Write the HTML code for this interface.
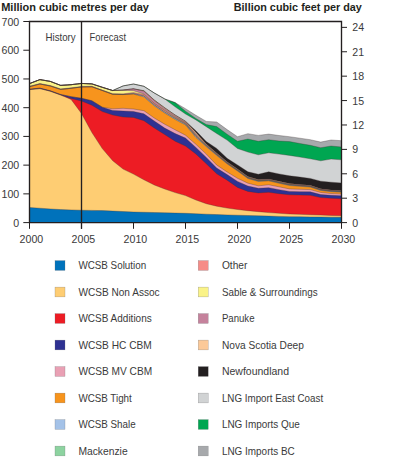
<!DOCTYPE html>
<html><head><meta charset="utf-8"><style>
html,body{margin:0;padding:0;background:#fff;}
svg{display:block;}
text{font-family:"Liberation Sans",sans-serif;fill:#3a3a3a;}
.ax{font-size:10.6px;}
.lg{font-size:10.3px;}
.ti{font-size:10.8px;font-weight:bold;fill:#231f20;}
.hf{font-size:10.2px;}
</style></head><body>
<svg width="400" height="464" viewBox="0 0 400 464">
<polygon points="29.50,83.60 39.90,79.60 50.30,81.40 60.70,85.40 71.10,84.70 81.50,83.45 91.90,83.88 102.30,87.31 112.70,90.54 123.10,85.90 133.50,84.00 143.90,86.30 154.30,93.00 164.70,98.90 175.10,102.60 185.50,108.70 195.90,115.30 206.30,121.40 216.70,122.00 227.10,129.60 237.50,136.70 247.90,133.70 258.30,135.40 268.70,134.10 279.10,135.50 289.50,136.70 299.90,138.20 310.30,139.70 320.70,142.10 331.10,140.00 341.50,140.70 341.50,222.60 29.50,222.60" fill="#a7a9ac"/>
<polygon points="29.50,83.60 39.90,79.60 50.30,81.40 60.70,85.40 71.10,84.70 81.50,83.45 91.90,83.88 102.30,87.31 112.70,90.54 123.10,85.90 133.50,84.00 143.90,86.30 154.30,93.00 164.70,98.90 175.10,102.60 185.50,111.20 195.90,118.50 206.30,124.60 216.70,126.60 227.10,134.20 237.50,141.30 247.90,139.00 258.30,141.30 268.70,139.70 279.10,141.00 289.50,141.60 299.90,143.50 310.30,145.30 320.70,147.70 331.10,146.00 341.50,147.00 341.50,222.60 29.50,222.60" fill="#00a651"/>
<polygon points="29.50,83.60 39.90,79.60 50.30,81.40 60.70,85.40 71.10,84.70 81.50,83.45 91.90,83.88 102.30,87.31 112.70,90.54 123.10,85.90 133.50,84.00 143.90,86.30 154.30,93.00 164.70,98.90 175.10,106.80 185.50,114.00 195.90,119.90 206.30,126.70 216.70,133.50 227.10,140.10 237.50,148.50 247.90,152.10 258.30,154.80 268.70,152.80 279.10,154.10 289.50,155.40 299.90,157.10 310.30,158.80 320.70,160.80 331.10,159.10 341.50,159.80 341.50,222.60 29.50,222.60" fill="#d1d3d4"/>
<polygon points="29.50,83.60 39.90,79.60 50.30,81.40 60.70,85.40 71.10,84.70 81.50,83.45 91.90,83.88 102.30,87.31 112.70,90.54 123.10,90.01 133.50,88.79 143.90,90.72 154.30,100.10 164.70,107.78 175.10,114.97 185.50,121.21 195.90,130.70 206.30,141.60 216.70,148.40 227.10,158.35 237.50,164.90 247.90,171.80 258.30,174.20 268.70,171.80 279.10,173.90 289.50,175.80 299.90,177.05 310.30,178.40 320.70,181.15 331.10,182.20 341.50,183.00 341.50,222.60 29.50,222.60" fill="#231f20"/>
<polygon points="29.50,83.60 39.90,79.60 50.30,81.40 60.70,85.40 71.10,84.70 81.50,83.45 91.90,83.88 102.30,87.31 112.70,90.54 123.10,90.01 133.50,88.79 143.90,90.72 154.30,100.10 164.70,107.78 175.10,114.97 185.50,121.21 195.90,132.41 206.30,143.98 216.70,153.06 227.10,161.71 237.50,169.06 247.90,176.57 258.30,179.49 268.70,178.90 279.10,181.31 289.50,183.53 299.90,184.40 310.30,185.28 320.70,188.75 331.10,190.03 341.50,190.60 341.50,222.60 29.50,222.60" fill="#fcc998"/>
<polygon points="29.50,83.60 39.90,79.60 50.30,81.40 60.70,85.40 71.10,84.70 81.50,83.45 91.90,83.88 102.30,87.31 112.70,90.54 123.10,90.01 133.50,88.79 143.90,91.22 154.30,100.80 164.70,108.68 175.10,115.87 185.50,122.01 195.90,133.91 206.30,144.58 216.70,153.56 227.10,162.16 237.50,169.46 247.90,176.97 258.30,179.89 268.70,179.30 279.10,181.72 289.50,183.93 299.90,184.78 310.30,185.64 320.70,189.09 331.10,190.35 341.50,190.90 341.50,222.60 29.50,222.60" fill="#c5829c"/>
<polygon points="29.50,83.60 39.90,79.60 50.30,81.40 60.70,85.40 71.10,84.70 81.50,83.45 91.90,83.88 102.30,87.31 112.70,90.54 123.10,90.41 133.50,90.69 143.90,94.02 154.30,103.20 164.70,110.28 175.10,117.07 185.50,122.81 195.90,135.11 206.30,145.08 216.70,153.96 227.10,162.56 237.50,169.86 247.90,177.37 258.30,180.29 268.70,179.70 279.10,182.12 289.50,184.33 299.90,185.16 310.30,186.00 320.70,189.43 331.10,190.67 341.50,191.20 341.50,222.60 29.50,222.60" fill="#faf388"/>
<polygon points="29.50,86.20 39.90,83.50 50.30,85.50 60.70,88.90 71.10,87.80 81.50,86.45 91.90,86.28 102.30,90.01 112.70,93.74 123.10,93.81 133.50,92.59 143.90,94.62 154.30,103.60 164.70,110.65 175.10,117.40 185.50,123.11 195.90,135.39 206.30,145.34 216.70,154.20 227.10,162.78 237.50,170.06 247.90,177.56 258.30,180.47 268.70,179.87 279.10,182.28 289.50,184.48 299.90,185.30 310.30,186.13 320.70,189.55 331.10,190.78 341.50,191.30 341.50,222.60 29.50,222.60" fill="#f68c87"/>
<polygon points="29.50,86.70 39.90,84.00 50.30,86.00 60.70,89.40 71.10,88.30 81.50,86.95 91.90,86.78 102.30,90.51 112.70,94.24 123.10,94.56 133.50,93.59 143.90,95.92 154.30,104.90 164.70,111.95 175.10,118.30 185.50,123.91 195.90,136.29 206.30,145.84 216.70,154.65 227.10,163.15 237.50,170.36 247.90,177.87 258.30,180.79 268.70,180.20 279.10,182.62 289.50,184.83 299.90,185.64 310.30,186.46 320.70,189.87 331.10,191.09 341.50,191.60 341.50,222.60 29.50,222.60" fill="#8dd3a0"/>
<polygon points="29.50,86.70 39.90,84.00 50.30,86.00 60.70,89.40 71.10,88.30 81.50,86.95 91.90,86.78 102.30,90.51 112.70,94.24 123.10,94.56 133.50,93.59 143.90,95.92 154.30,104.90 164.70,112.10 175.10,118.60 185.50,124.20 195.90,136.57 206.30,146.10 216.70,154.90 227.10,163.40 237.50,170.60 247.90,178.11 258.30,181.02 268.70,180.43 279.10,182.84 289.50,185.05 299.90,185.86 310.30,186.67 320.70,190.08 331.10,191.29 341.50,191.80 341.50,222.60 29.50,222.60" fill="#a4c2e8"/>
<polygon points="29.50,86.70 39.90,84.00 50.30,86.00 60.70,89.40 71.10,88.30 81.50,86.95 91.90,86.78 102.30,90.51 112.70,94.24 123.10,94.56 133.50,94.09 143.90,96.92 154.30,105.90 164.70,113.10 175.10,119.50 185.50,125.00 195.90,137.47 206.30,146.70 216.70,155.40 227.10,163.85 237.50,171.00 247.90,178.52 258.30,181.44 268.70,180.86 279.10,183.28 289.50,185.50 299.90,186.30 310.30,187.10 320.70,190.50 331.10,191.70 341.50,192.20 341.50,222.60 29.50,222.60" fill="#f7941d"/>
<polygon points="29.50,89.20 39.90,88.10 50.30,90.80 60.70,94.50 71.10,96.70 81.50,98.30 91.90,100.80 102.30,107.20 112.70,108.80 123.10,108.30 133.50,109.00 143.90,110.70 154.30,118.00 164.70,124.20 175.10,129.80 185.50,135.20 195.90,144.30 206.30,154.10 216.70,165.00 227.10,171.95 237.50,178.30 247.90,183.18 258.30,185.86 268.70,184.74 279.10,186.82 289.50,188.90 299.90,189.25 310.30,189.60 320.70,192.45 331.10,193.50 341.50,194.10 341.50,222.60 29.50,222.60" fill="#e9a0b4"/>
<polygon points="29.50,89.20 39.90,88.10 50.30,90.80 60.70,94.50 71.10,96.70 81.50,98.30 91.90,100.80 102.30,107.20 112.70,110.50 123.10,111.00 133.50,111.50 143.90,113.80 154.30,121.00 164.70,128.10 175.10,133.60 185.50,138.10 195.90,147.40 206.30,157.40 216.70,168.10 227.10,174.60 237.50,181.40 247.90,186.02 258.30,188.24 268.70,187.66 279.10,189.68 289.50,191.40 299.90,191.68 310.30,191.85 320.70,194.53 331.10,195.30 341.50,195.80 341.50,222.60 29.50,222.60" fill="#2e3192"/>
<polygon points="29.50,89.60 39.90,88.60 50.30,91.20 60.70,95.00 71.10,98.50 81.50,101.00 91.90,105.20 102.30,111.60 112.70,115.00 123.10,117.00 133.50,117.50 143.90,120.70 154.30,128.00 164.70,134.60 175.10,141.20 185.50,146.10 195.90,154.00 206.30,163.80 216.70,173.80 227.10,180.15 237.50,187.40 247.90,191.42 258.30,192.94 268.70,192.36 279.10,193.68 289.50,194.80 299.90,195.07 310.30,195.35 320.70,197.62 331.10,198.30 341.50,198.80 341.50,222.60 29.50,222.60" fill="#ed1c24"/>
<polygon points="29.50,89.60 39.90,88.60 50.30,91.20 60.70,95.00 71.10,99.40 81.50,113.50 91.90,132.50 102.30,148.60 112.70,160.70 123.10,169.10 133.50,174.10 143.90,179.80 154.30,185.00 164.70,189.00 175.10,192.60 185.50,195.60 195.90,200.00 206.30,203.70 216.70,206.20 227.10,208.10 237.50,209.50 247.90,210.70 258.30,211.65 268.70,212.60 279.10,213.30 289.50,214.00 299.90,214.36 310.30,214.72 320.70,215.08 331.10,215.44 341.50,215.80 341.50,222.60 29.50,222.60" fill="#fecd73"/>
<polygon points="29.50,207.50 39.90,208.20 50.30,208.90 60.70,209.60 71.10,209.90 81.50,210.20 91.90,210.40 102.30,210.60 112.70,211.07 123.10,211.53 133.50,212.00 143.90,212.26 154.30,212.52 164.70,212.78 175.10,213.04 185.50,213.30 195.90,213.73 206.30,214.17 216.70,214.60 227.10,214.90 237.50,215.20 247.90,215.50 258.30,215.80 268.70,216.10 279.10,216.40 289.50,216.70 299.90,216.82 310.30,216.94 320.70,217.06 331.10,217.18 341.50,217.30 341.50,222.60 29.50,222.60" fill="#0072bb"/>
<g fill="none" stroke="#3b2f2f" stroke-width="0.45" stroke-opacity="0.7" stroke-linejoin="round"><polyline points="29.50,207.50 39.90,208.20 50.30,208.90 60.70,209.60 71.10,209.90 81.50,210.20 91.90,210.40 102.30,210.60 112.70,211.07 123.10,211.53 133.50,212.00 143.90,212.26 154.30,212.52 164.70,212.78 175.10,213.04 185.50,213.30 195.90,213.73 206.30,214.17 216.70,214.60 227.10,214.90 237.50,215.20 247.90,215.50 258.30,215.80 268.70,216.10 279.10,216.40 289.50,216.70 299.90,216.82 310.30,216.94 320.70,217.06 331.10,217.18 341.50,217.30"/>
<polyline points="29.50,89.60 39.90,88.60 50.30,91.20 60.70,95.00 71.10,99.40 81.50,113.50 91.90,132.50 102.30,148.60 112.70,160.70 123.10,169.10 133.50,174.10 143.90,179.80 154.30,185.00 164.70,189.00 175.10,192.60 185.50,195.60 195.90,200.00 206.30,203.70 216.70,206.20 227.10,208.10 237.50,209.50 247.90,210.70 258.30,211.65 268.70,212.60 279.10,213.30 289.50,214.00 299.90,214.36 310.30,214.72 320.70,215.08 331.10,215.44 341.50,215.80"/>
<polyline points="29.50,89.60 39.90,88.60 50.30,91.20 60.70,95.00 71.10,98.50 81.50,101.00 91.90,105.20 102.30,111.60 112.70,115.00 123.10,117.00 133.50,117.50 143.90,120.70 154.30,128.00 164.70,134.60 175.10,141.20 185.50,146.10 195.90,154.00 206.30,163.80 216.70,173.80 227.10,180.15 237.50,187.40 247.90,191.42 258.30,192.94 268.70,192.36 279.10,193.68 289.50,194.80 299.90,195.07 310.30,195.35 320.70,197.62 331.10,198.30 341.50,198.80"/>
<polyline points="29.50,89.20 39.90,88.10 50.30,90.80 60.70,94.50 71.10,96.70 81.50,98.30 91.90,100.80 102.30,107.20 112.70,110.50 123.10,111.00 133.50,111.50 143.90,113.80 154.30,121.00 164.70,128.10 175.10,133.60 185.50,138.10 195.90,147.40 206.30,157.40 216.70,168.10 227.10,174.60 237.50,181.40 247.90,186.02 258.30,188.24 268.70,187.66 279.10,189.68 289.50,191.40 299.90,191.68 310.30,191.85 320.70,194.53 331.10,195.30 341.50,195.80"/>
<polyline points="29.50,89.20 39.90,88.10 50.30,90.80 60.70,94.50 71.10,96.70 81.50,98.30 91.90,100.80 102.30,107.20 112.70,108.80 123.10,108.30 133.50,109.00 143.90,110.70 154.30,118.00 164.70,124.20 175.10,129.80 185.50,135.20 195.90,144.30 206.30,154.10 216.70,165.00 227.10,171.95 237.50,178.30 247.90,183.18 258.30,185.86 268.70,184.74 279.10,186.82 289.50,188.90 299.90,189.25 310.30,189.60 320.70,192.45 331.10,193.50 341.50,194.10"/>
<polyline points="29.50,86.70 39.90,84.00 50.30,86.00 60.70,89.40 71.10,88.30 81.50,86.95 91.90,86.78 102.30,90.51 112.70,94.24 123.10,94.56 133.50,94.09 143.90,96.92 154.30,105.90 164.70,113.10 175.10,119.50 185.50,125.00 195.90,137.47 206.30,146.70 216.70,155.40 227.10,163.85 237.50,171.00 247.90,178.52 258.30,181.44 268.70,180.86 279.10,183.28 289.50,185.50 299.90,186.30 310.30,187.10 320.70,190.50 331.10,191.70 341.50,192.20"/>
<polyline points="29.50,86.70 39.90,84.00 50.30,86.00 60.70,89.40 71.10,88.30 81.50,86.95 91.90,86.78 102.30,90.51 112.70,94.24 123.10,94.56 133.50,93.59 143.90,95.92 154.30,104.90 164.70,112.10 175.10,118.60 185.50,124.20 195.90,136.57 206.30,146.10 216.70,154.90 227.10,163.40 237.50,170.60 247.90,178.11 258.30,181.02 268.70,180.43 279.10,182.84 289.50,185.05 299.90,185.86 310.30,186.67 320.70,190.08 331.10,191.29 341.50,191.80"/>
<polyline points="29.50,86.70 39.90,84.00 50.30,86.00 60.70,89.40 71.10,88.30 81.50,86.95 91.90,86.78 102.30,90.51 112.70,94.24 123.10,94.56 133.50,93.59 143.90,95.92 154.30,104.90 164.70,111.95 175.10,118.30 185.50,123.91 195.90,136.29 206.30,145.84 216.70,154.65 227.10,163.15 237.50,170.36 247.90,177.87 258.30,180.79 268.70,180.20 279.10,182.62 289.50,184.83 299.90,185.64 310.30,186.46 320.70,189.87 331.10,191.09 341.50,191.60"/>
<polyline points="29.50,86.20 39.90,83.50 50.30,85.50 60.70,88.90 71.10,87.80 81.50,86.45 91.90,86.28 102.30,90.01 112.70,93.74 123.10,93.81 133.50,92.59 143.90,94.62 154.30,103.60 164.70,110.65 175.10,117.40 185.50,123.11 195.90,135.39 206.30,145.34 216.70,154.20 227.10,162.78 237.50,170.06 247.90,177.56 258.30,180.47 268.70,179.87 279.10,182.28 289.50,184.48 299.90,185.30 310.30,186.13 320.70,189.55 331.10,190.78 341.50,191.30"/>
<polyline points="29.50,83.60 39.90,79.60 50.30,81.40 60.70,85.40 71.10,84.70 81.50,83.45 91.90,83.88 102.30,87.31 112.70,90.54 123.10,90.41 133.50,90.69 143.90,94.02 154.30,103.20 164.70,110.28 175.10,117.07 185.50,122.81 195.90,135.11 206.30,145.08 216.70,153.96 227.10,162.56 237.50,169.86 247.90,177.37 258.30,180.29 268.70,179.70 279.10,182.12 289.50,184.33 299.90,185.16 310.30,186.00 320.70,189.43 331.10,190.67 341.50,191.20"/>
<polyline points="29.50,83.60 39.90,79.60 50.30,81.40 60.70,85.40 71.10,84.70 81.50,83.45 91.90,83.88 102.30,87.31 112.70,90.54 123.10,90.01 133.50,88.79 143.90,91.22 154.30,100.80 164.70,108.68 175.10,115.87 185.50,122.01 195.90,133.91 206.30,144.58 216.70,153.56 227.10,162.16 237.50,169.46 247.90,176.97 258.30,179.89 268.70,179.30 279.10,181.72 289.50,183.93 299.90,184.78 310.30,185.64 320.70,189.09 331.10,190.35 341.50,190.90"/>
<polyline points="29.50,83.60 39.90,79.60 50.30,81.40 60.70,85.40 71.10,84.70 81.50,83.45 91.90,83.88 102.30,87.31 112.70,90.54 123.10,90.01 133.50,88.79 143.90,90.72 154.30,100.10 164.70,107.78 175.10,114.97 185.50,121.21 195.90,132.41 206.30,143.98 216.70,153.06 227.10,161.71 237.50,169.06 247.90,176.57 258.30,179.49 268.70,178.90 279.10,181.31 289.50,183.53 299.90,184.40 310.30,185.28 320.70,188.75 331.10,190.03 341.50,190.60"/>
<polyline points="29.50,83.60 39.90,79.60 50.30,81.40 60.70,85.40 71.10,84.70 81.50,83.45 91.90,83.88 102.30,87.31 112.70,90.54 123.10,90.01 133.50,88.79 143.90,90.72 154.30,100.10 164.70,107.78 175.10,114.97 185.50,121.21 195.90,130.70 206.30,141.60 216.70,148.40 227.10,158.35 237.50,164.90 247.90,171.80 258.30,174.20 268.70,171.80 279.10,173.90 289.50,175.80 299.90,177.05 310.30,178.40 320.70,181.15 331.10,182.20 341.50,183.00"/>
<polyline points="29.50,83.60 39.90,79.60 50.30,81.40 60.70,85.40 71.10,84.70 81.50,83.45 91.90,83.88 102.30,87.31 112.70,90.54 123.10,85.90 133.50,84.00 143.90,86.30 154.30,93.00 164.70,98.90 175.10,106.80 185.50,114.00 195.90,119.90 206.30,126.70 216.70,133.50 227.10,140.10 237.50,148.50 247.90,152.10 258.30,154.80 268.70,152.80 279.10,154.10 289.50,155.40 299.90,157.10 310.30,158.80 320.70,160.80 331.10,159.10 341.50,159.80"/>
<polyline points="29.50,83.60 39.90,79.60 50.30,81.40 60.70,85.40 71.10,84.70 81.50,83.45 91.90,83.88 102.30,87.31 112.70,90.54 123.10,85.90 133.50,84.00 143.90,86.30 154.30,93.00 164.70,98.90 175.10,102.60 185.50,111.20 195.90,118.50 206.30,124.60 216.70,126.60 227.10,134.20 237.50,141.30 247.90,139.00 258.30,141.30 268.70,139.70 279.10,141.00 289.50,141.60 299.90,143.50 310.30,145.30 320.70,147.70 331.10,146.00 341.50,147.00"/>
<polyline points="29.50,83.60 39.90,79.60 50.30,81.40 60.70,85.40 71.10,84.70 81.50,83.45 91.90,83.88 102.30,87.31 112.70,90.54 123.10,85.90 133.50,84.00 143.90,86.30 154.30,93.00 164.70,98.90 175.10,102.60 185.50,108.70 195.90,115.30 206.30,121.40 216.70,122.00 227.10,129.60 237.50,136.70 247.90,133.70 258.30,135.40 268.70,134.10 279.10,135.50 289.50,136.70 299.90,138.20 310.30,139.70 320.70,142.10 331.10,140.00 341.50,140.70"/></g>
<g stroke="#231f20" stroke-width="1">
<line x1="23.3" y1="222.60" x2="29.5" y2="222.60"/>
<line x1="23.3" y1="193.87" x2="29.5" y2="193.87"/>
<line x1="23.3" y1="165.14" x2="29.5" y2="165.14"/>
<line x1="23.3" y1="136.41" x2="29.5" y2="136.41"/>
<line x1="23.3" y1="107.69" x2="29.5" y2="107.69"/>
<line x1="23.3" y1="78.96" x2="29.5" y2="78.96"/>
<line x1="23.3" y1="50.23" x2="29.5" y2="50.23"/>
<line x1="23.3" y1="21.50" x2="29.5" y2="21.50"/>
<line x1="341.5" y1="222.60" x2="347" y2="222.60"/>
<line x1="341.5" y1="198.19" x2="347" y2="198.19"/>
<line x1="341.5" y1="173.79" x2="347" y2="173.79"/>
<line x1="341.5" y1="149.38" x2="347" y2="149.38"/>
<line x1="341.5" y1="124.98" x2="347" y2="124.98"/>
<line x1="341.5" y1="100.57" x2="347" y2="100.57"/>
<line x1="341.5" y1="76.17" x2="347" y2="76.17"/>
<line x1="341.5" y1="51.76" x2="347" y2="51.76"/>
<line x1="341.5" y1="27.36" x2="347" y2="27.36"/>
<line x1="29.50" y1="222.6" x2="29.50" y2="228.8"/>
<line x1="81.50" y1="222.6" x2="81.50" y2="228.8"/>
<line x1="133.50" y1="222.6" x2="133.50" y2="228.8"/>
<line x1="185.50" y1="222.6" x2="185.50" y2="228.8"/>
<line x1="237.50" y1="222.6" x2="237.50" y2="228.8"/>
<line x1="289.50" y1="222.6" x2="289.50" y2="228.8"/>
<line x1="341.50" y1="222.6" x2="341.50" y2="228.8"/>
</g>
<path d="M29.5,222.6 V21.5 H341.5 V222.6 Z" fill="none" stroke="#231f20" stroke-width="1.35"/>
<line x1="81.5" y1="21.5" x2="81.5" y2="228.8" stroke="#231f20" stroke-width="1.35"/>
<text x="19.2" y="226.60" text-anchor="end" class="ax">0</text>
<text x="19.2" y="197.87" text-anchor="end" class="ax">100</text>
<text x="19.2" y="169.14" text-anchor="end" class="ax">200</text>
<text x="19.2" y="140.41" text-anchor="end" class="ax">300</text>
<text x="19.2" y="111.69" text-anchor="end" class="ax">400</text>
<text x="19.2" y="82.96" text-anchor="end" class="ax">500</text>
<text x="19.2" y="54.23" text-anchor="end" class="ax">600</text>
<text x="19.2" y="25.50" text-anchor="end" class="ax">700</text>
<text x="352.3" y="226.60" class="ax">0</text>
<text x="352.3" y="202.19" class="ax">3</text>
<text x="352.3" y="177.79" class="ax">6</text>
<text x="352.3" y="153.38" class="ax">9</text>
<text x="352.3" y="128.98" class="ax">12</text>
<text x="352.3" y="104.57" class="ax">15</text>
<text x="352.3" y="80.17" class="ax">18</text>
<text x="352.3" y="55.76" class="ax">21</text>
<text x="352.3" y="31.36" class="ax">24</text>
<text x="31.40" y="242.8" text-anchor="middle" class="ax">2000</text>
<text x="83.40" y="242.8" text-anchor="middle" class="ax">2005</text>
<text x="135.40" y="242.8" text-anchor="middle" class="ax">2010</text>
<text x="187.40" y="242.8" text-anchor="middle" class="ax">2015</text>
<text x="239.40" y="242.8" text-anchor="middle" class="ax">2020</text>
<text x="291.40" y="242.8" text-anchor="middle" class="ax">2025</text>
<text x="343.40" y="242.8" text-anchor="middle" class="ax">2030</text>
<text id="t_ti1" x="1.2" y="10.6" class="ti" textLength="147.80" lengthAdjust="spacingAndGlyphs">Million cubic metres per day</text>
<text id="t_ti2" x="233.8" y="10.6" class="ti" textLength="128.10" lengthAdjust="spacingAndGlyphs">Billion cubic feet per day</text>
<text id="t_hist" x="45.5" y="41.2" class="hf" textLength="30.10" lengthAdjust="spacingAndGlyphs">History</text>
<text id="t_fore" x="89.5" y="41.2" class="hf" textLength="36.54" lengthAdjust="spacingAndGlyphs">Forecast</text>
<rect x="55" y="260.60" width="10" height="9.8" fill="#0072bb" stroke="#6d6e71" stroke-width="0.35" stroke-opacity="0.7"/>
<text id="t_solution" x="78.4" y="269.30" class="lg" textLength="67.77" lengthAdjust="spacingAndGlyphs">WCSB Solution</text>
<rect x="55" y="287.10" width="10" height="9.8" fill="#fecd73" stroke="#6d6e71" stroke-width="0.35" stroke-opacity="0.7"/>
<text id="t_nonassoc" x="78.4" y="295.80" class="lg" textLength="81.28" lengthAdjust="spacingAndGlyphs">WCSB Non Assoc</text>
<rect x="55" y="313.60" width="10" height="9.8" fill="#ed1c24" stroke="#6d6e71" stroke-width="0.35" stroke-opacity="0.7"/>
<text id="t_additions" x="78.4" y="322.30" class="lg" textLength="73.35" lengthAdjust="spacingAndGlyphs">WCSB Additions</text>
<rect x="55" y="340.10" width="10" height="9.8" fill="#2e3192" stroke="#6d6e71" stroke-width="0.35" stroke-opacity="0.7"/>
<text id="t_hccbm" x="78.4" y="348.80" class="lg" textLength="73.38" lengthAdjust="spacingAndGlyphs">WCSB HC CBM</text>
<rect x="55" y="366.60" width="10" height="9.8" fill="#e9a0b4" stroke="#6d6e71" stroke-width="0.35" stroke-opacity="0.7"/>
<text id="t_mvcbm" x="78.4" y="375.30" class="lg" textLength="73.75" lengthAdjust="spacingAndGlyphs">WCSB MV CBM</text>
<rect x="55" y="393.10" width="10" height="9.8" fill="#f7941d" stroke="#6d6e71" stroke-width="0.35" stroke-opacity="0.7"/>
<text id="t_tight" x="78.4" y="401.80" class="lg" textLength="53.38" lengthAdjust="spacingAndGlyphs">WCSB Tight</text>
<rect x="55" y="419.60" width="10" height="9.8" fill="#a4c2e8" stroke="#6d6e71" stroke-width="0.35" stroke-opacity="0.7"/>
<text id="t_shale" x="78.4" y="428.30" class="lg" textLength="57.29" lengthAdjust="spacingAndGlyphs">WCSB Shale</text>
<rect x="55" y="446.10" width="10" height="9.8" fill="#8dd3a0" stroke="#6d6e71" stroke-width="0.35" stroke-opacity="0.7"/>
<text id="t_mackenzie" x="78.4" y="454.80" class="lg" textLength="49.22" lengthAdjust="spacingAndGlyphs">Mackenzie</text>
<rect x="198.2" y="260.60" width="10" height="9.8" fill="#f68c87" stroke="#6d6e71" stroke-width="0.35" stroke-opacity="0.7"/>
<text id="t_other" x="221.9" y="269.30" class="lg" textLength="25.47" lengthAdjust="spacingAndGlyphs">Other</text>
<rect x="198.2" y="287.10" width="10" height="9.8" fill="#faf388" stroke="#6d6e71" stroke-width="0.35" stroke-opacity="0.7"/>
<text id="t_sable" x="221.9" y="295.80" class="lg" textLength="95.69" lengthAdjust="spacingAndGlyphs">Sable &amp; Surroundings</text>
<rect x="198.2" y="313.60" width="10" height="9.8" fill="#c5829c" stroke="#6d6e71" stroke-width="0.35" stroke-opacity="0.7"/>
<text id="t_panuke" x="221.9" y="322.30" class="lg" textLength="32.64" lengthAdjust="spacingAndGlyphs">Panuke</text>
<rect x="198.2" y="340.10" width="10" height="9.8" fill="#fcc998" stroke="#6d6e71" stroke-width="0.35" stroke-opacity="0.7"/>
<text id="t_nsdeep" x="221.9" y="348.80" class="lg" textLength="82.00" lengthAdjust="spacingAndGlyphs">Nova Scotia Deep</text>
<rect x="198.2" y="366.60" width="10" height="9.8" fill="#231f20" stroke="#6d6e71" stroke-width="0.35" stroke-opacity="0.7"/>
<text id="t_newfoundland" x="221.9" y="375.30" class="lg" textLength="67.14" lengthAdjust="spacingAndGlyphs">Newfoundland</text>
<rect x="198.2" y="393.10" width="10" height="9.8" fill="#d1d3d4" stroke="#6d6e71" stroke-width="0.35" stroke-opacity="0.7"/>
<text id="t_lngec" x="221.9" y="401.80" class="lg" textLength="101.25" lengthAdjust="spacingAndGlyphs">LNG Import East Coast</text>
<rect x="198.2" y="419.60" width="10" height="9.8" fill="#00a651" stroke="#6d6e71" stroke-width="0.35" stroke-opacity="0.7"/>
<text id="t_lngque" x="221.9" y="428.30" class="lg" textLength="77.99" lengthAdjust="spacingAndGlyphs">LNG Imports Que</text>
<rect x="198.2" y="446.10" width="10" height="9.8" fill="#a7a9ac" stroke="#6d6e71" stroke-width="0.35" stroke-opacity="0.7"/>
<text id="t_lngbc" x="221.9" y="454.80" class="lg" textLength="72.83" lengthAdjust="spacingAndGlyphs">LNG Imports BC</text>
</svg>
</body></html>
